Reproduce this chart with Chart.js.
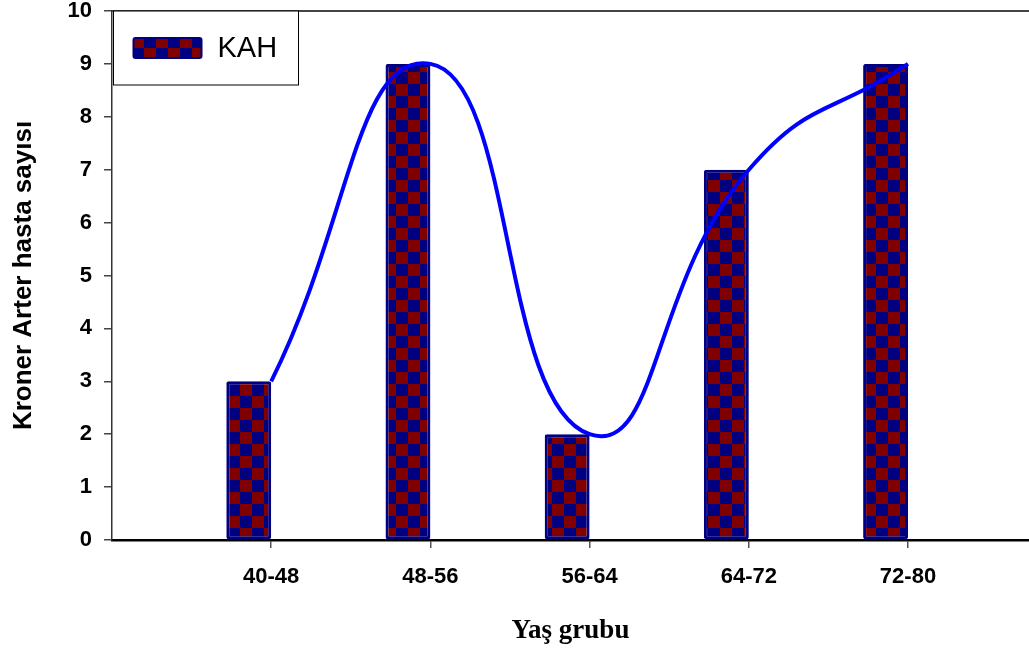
<!DOCTYPE html>
<html>
<head>
<meta charset="utf-8">
<script src="https://cdn.jsdelivr.net/npm/chart.js@4"></script>
<style>
  html, body { margin: 0; padding: 0; background: #fff; }
  #wrap { width: 1029px; height: 656px; }
</style>
</head>
<body>
<div id="wrap"><canvas id="kahChart"></canvas></div>
<script>
// yaş grupları ve hasta sayıları
const gruplar = ["40-48", "48-56", "56-64", "64-72", "72-80"];
const hastaSayisi = [3, 9, 2, 7, 9];
const yTicks = [0, 1, 2, 3, 4, 5, 6, 7, 8, 9, 10];

const NAVY = "#000080";
const KOYU_KIRMIZI = "#800000";

/* damalı dolgu deseni */
function damaDeseni(ctx){
  const c = document.createElement("canvas");
  c.width = 24; c.height = 24;
  const g = c.getContext("2d");
  g.fillStyle = NAVY;
  g.fillRect(0, 0, 24, 24);
  g.fillStyle = KOYU_KIRMIZI;
  g.fillRect(0, 0, 12, 12);
  g.fillRect(12, 12, 12, 12);
  return ctx.createPattern(c, "repeat");
}

const canvas = document.getElementById("kahChart");
const ctx = canvas.getContext("2d");
const desen = damaDeseni(ctx);

/* çerçeve üst çizgisi ve grafik içindeki lejant kutusu */
const lejantPlugin = {
  id: "lejant",
  afterDatasetsDraw(chart){
    const a = chart.chartArea;
    const c = chart.ctx;
    c.save();

    c.strokeStyle = "#444";
    c.lineWidth = 2;
    c.beginPath();
    c.moveTo(a.left, a.top);
    c.lineTo(chart.width, a.top);
    c.stroke();

    const bx = a.left + 1.5, by = a.top, bw = 185, bh = 74;
    c.fillStyle = "#fff";
    c.fillRect(bx, by, bw, bh);
    c.strokeStyle = "#000";
    c.lineWidth = 1;
    c.strokeRect(bx, by, bw, bh);

    c.fillStyle = desen;
    c.strokeStyle = NAVY;
    c.lineWidth = 2;
    c.beginPath();
    c.roundRect(bx + 20, by + 27, 68, 20, 2);
    c.fill();
    c.stroke();

    c.fillStyle = "#000";
    c.font = "29px 'Liberation Sans', Arial, sans-serif";
    c.textBaseline = "middle";
    c.fillText(chart.data.datasets[1].label, bx + 104, by + 38);
    c.restore();
  }
};

new Chart(ctx, {
  type: "bar",
  data: {
    datasets: [
      {
        type: "line",
        label: "eğri",
        data: gruplar.map((g, i) => ({ x: i + 1, y: hastaSayisi[i] })),
        borderColor: "#0000ff",
        borderWidth: 4,
        tension: 0.5,
        pointRadius: 0,
        fill: false,
        order: 0
      },
      {
        label: "KAH",
        data: gruplar.map((g, i) => ({ x: i + 1, y: hastaSayisi[i] })),
        backgroundColor: desen,
        borderColor: NAVY,
        borderWidth: 3,
        borderRadius: 2,
        borderSkipped: false,
        categoryPercentage: 0.564,
        barPercentage: 1,
        order: 1
      },
      {
        // boş grup: çubukları etiketin soluna iter
        label: "",
        data: gruplar.map((g, i) => ({ x: i + 1, y: null })),
        categoryPercentage: 0.564,
        barPercentage: 1,
        order: 2
      }
    ]
  },
  options: {
    responsive: true,
    maintainAspectRatio: false,
    animation: false,
    layout: { padding: { top: 11, right: 0, left: 0, bottom: 0 } },
    plugins: {
      legend: { display: false },
      tooltip: { enabled: false }
    },
    scales: {
      x: {
        type: "linear",
        min: 0,
        max: 5.76,
        offset: false,
        afterBuildTicks: s => { s.ticks = gruplar.map((g, i) => ({ value: i + 1 })); },
        afterFit: s => { s.height = 116; s.paddingLeft = 0; s.paddingRight = 0; },
        grid: { offset: false, drawOnChartArea: false, drawTicks: true, tickLength: 8, color: "#555", lineWidth: 1.5 },
        border: { display: true, color: "#000", width: 2.5 },
        ticks: {
          callback: v => gruplar[v - 1],
          color: "#000",
          padding: 16,
          maxRotation: 0,
          font: { family: "'Liberation Sans', Arial, sans-serif", size: 22, weight: "bold" }
        },
        title: {
          display: true,
          text: "Yaş grubu",
          color: "#000",
          padding: { top: 0, bottom: 9 },
          font: { family: "'Liberation Serif', 'Times New Roman', serif", size: 27, weight: "bold" }
        }
      },
      y: {
        min: 0,
        max: 10,
        afterBuildTicks: s => { s.ticks = yTicks.map(v => ({ value: v })); },
        afterFit: s => { s.width = 112; s.paddingTop = 0; s.paddingBottom = 0; },
        grid: { drawOnChartArea: false, drawTicks: true, tickLength: 8, color: "#444", lineWidth: 1.5 },
        border: { display: true, color: "#333", width: 1.5 },
        ticks: {
          color: "#000",
          padding: 12,
          font: { family: "'Liberation Sans', Arial, sans-serif", size: 22, weight: "bold" }
        },
        title: {
          display: true,
          text: "Kroner Arter hasta sayısı",
          color: "#000",
          padding: { top: 8, bottom: 0 },
          font: { family: "'Liberation Sans', Arial, sans-serif", size: 26, weight: "bold" }
        }
      }
    }
  },
  plugins: [lejantPlugin]
});
</script>
</body>
</html>
